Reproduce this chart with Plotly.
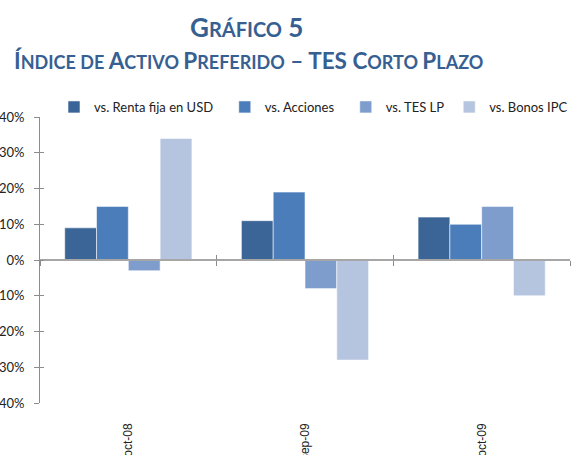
import plotly.graph_objects as go

categories = ["oct-08", "sep-09", "oct-09"]
series_names = ["vs. Renta fija en USD", "vs. Acciones", "vs. TES LP", "vs. Bonos IPC"]
renta_fija_usd = [0.09, 0.11, 0.12]
acciones = [0.15, 0.19, 0.10]
tes_lp = [-0.03, -0.08, 0.15]
bonos_ipc = [0.34, -0.28, -0.10]
y_tickvals = [-0.4, -0.3, -0.2, -0.1, 0.0, 0.1, 0.2, 0.3, 0.4]

series_values = [renta_fija_usd, acciones, tes_lp, bonos_ipc]
colors = ["#3C6597", "#4A7DBA", "#7E9DCC", "#B6C5DF"]
legend_pad = [2, 2, 0, 0]  # extra spacing after legend entries (nbsp count)

W, H = 571, 455
px_left, px_right, px_top, px_bottom = 40, 570, 117, 403
xdom = [px_left / W, px_right / W]
ydom = [1 - px_bottom / H, 1 - px_top / H]
zero_pos = (ydom[0] + ydom[1]) / 2

fig = go.Figure()
for name, vals, col, pad in zip(series_names, series_values, colors, legend_pad):
    fig.add_trace(go.Bar(
        x=categories, y=vals, name=name + "\u00a0" * pad,
        marker=dict(color=col, line=dict(color="rgba(255,255,255,0.55)", width=1)),
    ))

# helper (empty) traces so the overlaid tick axes get drawn
fig.add_trace(go.Scatter(x=[None], y=[None], xaxis="x2", yaxis="y2",
                         showlegend=False, hoverinfo="skip", mode="markers"))
fig.add_trace(go.Scatter(x=[None], y=[None], xaxis="x3", yaxis="y2",
                         showlegend=False, hoverinfo="skip", mode="markers"))

axis_gray = "#8C8C8C"
fig.update_layout(
    template="none",
    width=W, height=H,
    margin=dict(l=0, r=0, t=0, b=0, autoexpand=False),
    paper_bgcolor="white", plot_bgcolor="white",
    barmode="group", bargap=0.28, bargroupgap=0,
    showlegend=True,
    legend=dict(orientation="h", x=54 / W, xanchor="left", y=1 - 107 / H, yanchor="middle",
                font=dict(family="Lato", size=13, color="#222"),
                itemwidth=30, tracegroupgap=0, bgcolor="rgba(0,0,0,0)"),
    xaxis=dict(type="category", domain=xdom, automargin=False,
               showline=False, showgrid=False, zeroline=False,
               ticks="", tickangle=-90, ticklabelstandoff=17,
               tickfont=dict(family="Liberation Sans", size=12, color="#222")),
    yaxis=dict(range=[-0.4, 0.4], domain=ydom, automargin=False,
               tickvals=y_tickvals, tickformat=".0%",
               showgrid=False, showline=True, linecolor=axis_gray, linewidth=1,
               ticks="outside", ticklen=5, tickcolor=axis_gray, ticklabelstandoff=7,
               zeroline=False,
               tickfont=dict(family="Lato", size=13, color="#222")),
    yaxis2=dict(range=[-0.4, 0.4], tickvals=y_tickvals, overlaying="y", side="left",
                automargin=False,
                showticklabels=False, showgrid=False, zeroline=False, showline=False,
                ticks="inside", ticklen=4, tickcolor=axis_gray),
    xaxis2=dict(range=[-0.5, 2.5], tickvals=[-0.5, 0.5, 1.5, 2.5], overlaying="x",
                anchor="free", position=zero_pos, automargin=False,
                showticklabels=False, showgrid=False,
                zeroline=False, showline=True, linecolor="#A6A6A6", linewidth=1.5,
                ticks="outside", ticklen=5, tickcolor=axis_gray),
    xaxis3=dict(range=[-0.5, 2.5], tickvals=[-0.5, 0.5, 1.5, 2.5], overlaying="x",
                anchor="free", position=zero_pos, automargin=False,
                showticklabels=False, showgrid=False,
                zeroline=False, showline=False,
                ticks="inside", ticklen=5, tickcolor=axis_gray),
)

title_color = "#376092"
fig.add_annotation(
    text="<b>G<span style='font-size:20px'>RÁFICO</span> 5</b>",
    xref="paper", yref="paper", x=246 / W, y=1 - 27 / H, showarrow=False,
    font=dict(family="Lato", size=26, color=title_color), xanchor="center", yanchor="middle",
)
fig.add_annotation(
    text="<b>Í<span style='font-size:18px'>NDICE DE </span>A<span style='font-size:18px'>CTIVO </span>P<span style='font-size:18px'>REFERIDO</span> – TES C<span style='font-size:18px'>ORTO </span>P<span style='font-size:18px'>LAZO</span></b>",
    xref="paper", yref="paper", x=248 / W, y=1 - 61 / H, showarrow=False,
    font=dict(family="Lato", size=22.5, color=title_color), xanchor="center", yanchor="middle",
)

fig.write_html("out.html", config={"displayModeBar": False},
               post_script="document.body.style.margin='0';")
